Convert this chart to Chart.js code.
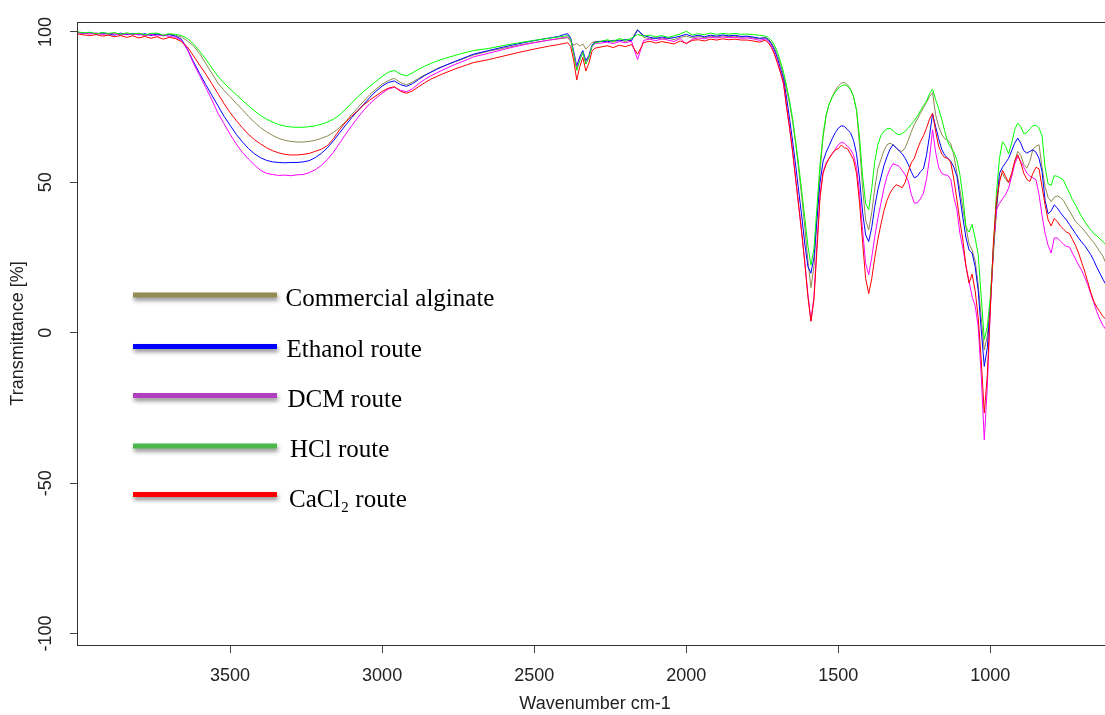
<!DOCTYPE html>
<html>
<head>
<meta charset="utf-8">
<title>FTIR spectra of alginate samples</title>
<script src="https://cdn.jsdelivr.net/npm/chart.js@4.4.1/dist/chart.umd.min.js"></script>
<style>
  html, body { margin: 0; padding: 0; background: #fff; overflow: hidden; }
  #wrap { position: absolute; left: 0; top: 0; width: 1120px; height: 715px; }
</style>
</head>
<body>
<div id="wrap"><canvas id="spectra"></canvas></div>
<script>
// Wavenumber grid (cm-1), shared by every spectrum
const wavenumbers = [
  4000,3980,3960,3940,3920,3900,3880,3860,3840,3820,3800,3780,3760,3740,3720,3700,3680,3660,
  3640,3620,3600,3580,3560,3540,3520,3500,3480,3460,3440,3420,3400,3380,3360,3340,3320,3300,3280,3260,3240,3220,3200,3180,3160,3140,3120,3100,3080,3060,3040,3020,3000,
  2980,2960,2940,2920,2900,2880,2860,2840,2820,2800,2780,2760,2740,2720,2700,
  2650,2600,2550,2500,2450,2420,
  2400,2390,2380,2370,2360,2350,2340,2330,2320,2310,2300,
  2280,2260,2240,2220,2200,2180,2160,2140,2120,2100,2080,2060,2040,2020,2000,1980,1960,1940,1920,1900,1880,1860,1840,1820,1800,1780,1760,
  1740,1730,1720,1710,1700,1690,1680,1670,1660,1650,
  1640,1630,1620,1610,1600,1590,1580,1570,1560,1550,
  1540,1530,1520,1510,1500,1490,1480,1470,1460,1450,
  1440,1430,1420,1410,1400,1390,1380,1370,1360,1350,
  1340,1330,1320,1310,1300,1290,1280,1270,1260,1250,
  1240,1230,1220,1210,1200,1190,1180,1170,1160,1150,
  1140,1130,1120,1110,1100,1090,1080,1070,1060,1050,
  1040,1030,1020,1010,1000,990,980,970,960,950,
  940,930,920,910,900,890,880,870,860,850,
  840,830,820,810,800,790,780,770,760,750,
  740,730,720,710,700,690,680,670,660,650,
  640,630,620,610,600
];

// Transmittance (%) of each sample
const commercialAlginate = [
  99.8,99.6,99.7,99.3,99.6,99.2,99.5,99.0,99.4,99.1,99.5,98.9,99.3,99.4,98.8,99.2,98.9,98.3,
  97.0,95.3,92.8,89.5,86.3,83.0,80.6,78.5,76.3,74.2,72.0,70.0,68.2,66.8,65.6,64.6,64.0,63.6,63.4,63.4,63.6,64.0,64.6,65.4,66.6,68.2,70.2,72.6,74.8,77.0,79.2,81.0,82.6,
  83.8,84.6,83.2,82.4,83.3,84.6,85.7,86.6,87.8,88.6,89.3,90.1,90.8,91.6,92.3,
  93.6,94.6,95.6,96.5,97.3,97.7,
  97.9,98.1,96.8,95.6,96.2,95.3,96.0,94.3,95.4,96.4,96.8,
  96.9,97.2,96.6,97.4,96.8,97.5,100.8,98.2,97.7,98.1,97.6,98.0,97.4,98.2,98.6,98.0,98.5,98.1,98.6,98.3,98.7,98.4,98.6,98.2,98.4,98.0,97.7,
  98.2,97.6,96.4,94.6,92.2,89.2,85.5,80.8,76.0,70.0,
  62.5,54.0,45.0,35.0,24.0,15.0,22.0,38.0,54.0,65.0,
  72.0,76.0,78.5,80.5,82.0,83.0,83.2,82.5,81.0,78.5,
  74.0,62.0,48.0,37.5,34.2,40.0,48.0,54.5,57.5,60.5,
  62.5,63.0,62.5,61.5,60.6,60.3,61.5,64.0,66.8,69.2,
  71.0,73.0,74.8,76.6,78.5,79.8,72.5,68.6,66.0,64.5,
  64.0,62.8,59.0,53.0,47.5,41.0,35.0,29.5,27.5,24.0,
  16.0,5.0,-5.7,-1.0,10.0,26.0,40.0,51.0,53.0,51.0,
  49.8,52.0,57.0,60.3,59.0,56.0,54.7,57.0,61.0,62.0,
  62.5,55.0,48.5,45.0,43.6,45.0,45.5,45.0,44.0,42.2,
  40.5,38.8,37.0,36.0,35.0,33.8,32.5,31.2,30.0,28.5,
  27.0,25.5,23.0,21.5,20.0
];

const ethanolRoute = [
  99.9,99.5,99.8,99.2,99.7,99.4,98.9,99.6,99.1,99.5,99.0,99.4,98.8,99.3,98.7,99.1,98.6,97.6,
  94.2,90.0,86.2,82.5,79.0,75.5,72.0,69.0,66.0,63.5,61.3,59.5,58.2,57.3,56.8,56.6,56.5,56.6,56.6,56.8,57.2,58.2,59.6,61.5,63.8,66.4,69.0,71.5,73.8,76.0,78.3,80.3,82.0,
  83.2,83.7,82.5,81.9,82.8,84.2,85.5,86.6,87.6,88.5,89.4,90.2,91.0,91.8,92.6,
  93.8,95.0,96.1,97.1,98.0,98.5,
  99.2,99.4,98.0,93.5,88.6,91.8,93.8,90.4,92.2,95.6,96.6,
  96.9,96.7,97.2,97.0,97.5,97.1,100.6,98.8,98.2,97.8,98.3,97.9,98.1,98.6,99.2,98.5,98.9,98.4,98.9,98.6,99.0,98.7,98.9,98.5,98.6,98.3,97.9,
  98.0,97.4,96.0,94.0,91.2,87.8,84.5,78.0,71.0,63.5,
  55.5,47.0,38.5,29.5,22.0,19.8,25.0,38.0,50.0,57.0,
  60.0,62.2,64.5,66.5,68.0,68.8,68.6,67.5,66.5,64.0,
  59.5,51.0,40.0,32.5,30.3,35.0,42.0,47.5,51.5,55.5,
  58.5,61.0,62.5,61.5,60.5,59.5,58.0,56.0,53.5,51.5,
  52.0,53.5,54.5,59.0,65.5,72.8,68.5,64.5,61.0,59.0,
  58.0,57.0,55.0,52.0,45.0,38.0,31.5,27.5,26.5,22.0,
  14.0,1.0,-11.2,-5.0,10.0,28.0,42.0,53.0,55.0,56.5,
  58.0,60.5,63.0,64.7,63.0,60.5,59.7,60.3,60.8,60.0,
  58.0,53.5,44.0,39.5,40.5,42.5,41.5,40.0,38.7,37.5,
  36.0,34.5,33.0,31.5,30.2,29.0,27.5,26.0,24.0,21.8,
  19.8,17.8,16.0,15.0,14.0
];

const dcmRoute = [
  99.7,99.6,99.3,99.7,99.1,99.5,99.3,98.9,99.4,99.0,99.3,98.7,99.2,98.6,99.0,98.5,98.2,97.2,
  94.0,89.5,85.5,81.5,77.5,73.0,69.5,66.0,62.8,60.0,57.8,55.8,54.0,53.0,52.6,52.3,52.4,52.2,52.5,52.6,53.2,54.2,55.6,57.6,60.0,63.0,66.0,68.8,71.5,74.0,76.2,78.0,79.6,
  81.0,81.6,80.6,80.1,81.1,82.8,84.2,85.4,86.4,87.4,88.3,89.2,90.0,90.8,91.7,
  92.9,94.2,95.4,96.4,97.3,97.8,
  98.2,98.4,97.2,92.8,87.6,91.0,93.0,89.6,91.6,95.0,96.2,
  96.3,96.6,96.1,96.8,96.4,96.9,90.8,97.2,97.6,97.1,97.7,97.3,96.8,97.8,96.0,97.6,98.0,97.7,98.2,98.0,98.3,98.1,98.2,97.9,98.0,97.7,97.2,
  97.6,96.8,95.2,93.0,90.0,86.4,82.5,75.0,68.0,60.0,
  51.0,42.0,33.0,23.5,13.0,4.0,12.0,30.0,46.0,53.5,
  56.5,58.0,59.5,61.0,62.5,63.3,63.0,62.0,61.0,59.0,
  55.0,46.0,34.0,23.0,19.3,25.0,32.0,38.0,43.0,48.0,
  52.0,54.5,56.2,55.8,55.3,54.0,52.5,50.5,46.0,43.1,
  43.2,44.5,46.4,51.0,58.0,67.5,60.0,55.0,53.0,52.5,
  52.3,51.0,45.0,40.9,33.0,28.0,22.0,17.0,12.0,9.0,
  2.0,-14.0,-35.6,-18.0,8.0,28.0,40.9,43.0,44.5,46.0,
  48.0,52.0,56.0,58.6,57.0,55.0,53.1,52.0,51.5,50.9,
  46.0,39.0,33.1,29.0,26.5,31.5,31.5,30.5,29.5,28.7,
  28.5,26.5,24.5,22.5,20.8,18.5,16.0,13.0,10.0,7.0,
  4.5,2.5,1.0,0.5,0.0
];

const hclRoute = [
  100.0,99.7,99.9,99.4,99.8,99.5,99.8,99.2,99.7,99.3,99.6,99.0,99.5,99.6,98.9,99.4,99.2,98.8,
  97.8,96.0,93.6,91.0,88.0,85.3,83.0,81.0,79.2,77.3,75.5,73.8,72.2,71.0,70.0,69.2,68.7,68.4,68.3,68.3,68.5,68.8,69.3,70.0,71.0,72.4,74.3,76.4,78.4,80.3,82.0,83.6,85.2,
  86.6,87.2,86.0,85.4,86.4,87.6,88.6,89.5,90.3,91.0,91.6,92.2,92.8,93.3,93.8,
  94.5,95.5,96.4,97.2,97.9,98.3,
  98.6,98.8,97.5,92.5,87.2,90.5,93.2,89.3,91.5,95.2,96.4,
  96.8,97.4,96.9,97.8,97.2,97.9,99.2,98.6,98.9,98.4,98.8,98.2,98.7,99.3,100.2,99.0,99.4,99.1,99.6,99.2,99.5,99.3,99.5,99.2,99.3,99.1,98.9,
  98.6,98.2,97.2,95.6,93.2,90.2,86.6,82.0,77.0,71.0,
  63.5,55.5,47.0,38.0,29.0,22.5,28.0,42.0,56.0,66.0,
  72.5,76.0,78.3,80.0,81.2,82.0,82.4,82.0,81.0,78.5,
  74.0,65.0,52.0,43.0,40.9,48.0,57.0,62.5,65.5,67.0,
  67.8,68.0,67.2,66.2,65.8,66.2,67.0,68.0,69.3,70.5,
  72.0,73.8,75.5,77.0,79.5,81.0,77.5,74.5,71.0,67.0,
  63.5,61.5,60.0,57.5,52.5,45.0,35.0,33.5,36.0,31.5,
  26.0,12.0,-2.3,2.0,12.0,28.0,46.4,58.0,63.5,62.0,
  59.5,63.0,67.5,69.7,68.5,66.2,66.5,67.8,68.8,69.0,
  68.0,65.5,55.0,49.5,49.0,52.2,52.0,51.5,50.8,48.5,
  46.5,44.2,42.5,40.5,38.6,37.0,35.5,34.2,33.0,32.2,
  31.2,30.3,29.2,28.2,27.0
];

const cacl2Route = [
  99.3,99.0,98.8,99.1,98.6,98.9,98.4,98.8,98.2,98.7,98.0,98.5,97.9,98.4,97.6,98.2,97.8,96.8,
  95.0,92.0,89.0,86.0,82.8,79.5,76.2,73.2,70.6,68.2,66.0,64.2,62.8,61.5,60.5,59.8,59.3,59.1,59.1,59.3,59.6,60.3,61.0,62.2,64.5,67.5,70.0,72.0,73.8,75.8,77.4,78.8,80.2,
  81.3,81.8,80.3,79.6,80.4,81.8,83.1,84.3,85.2,86.1,86.9,87.7,88.4,89.1,89.8,
  90.8,92.0,93.2,94.3,95.3,95.8,
  96.2,96.4,95.2,90.5,84.0,88.5,91.5,87.0,89.6,93.6,94.6,
  95.0,95.4,94.8,95.6,95.1,95.8,92.6,96.5,96.9,96.3,96.8,96.4,96.0,97.0,96.2,97.2,97.4,97.0,97.6,97.3,97.7,97.4,97.6,97.3,97.3,97.0,96.6,
  97.2,96.4,94.8,92.6,89.6,86.5,83.0,75.0,68.0,60.0,
  51.0,42.0,33.0,23.0,12.0,3.8,11.0,28.0,45.0,53.0,
  56.0,58.0,59.5,60.8,61.2,62.4,61.5,61.2,59.5,57.5,
  53.0,43.0,30.0,18.0,13.0,18.0,25.0,31.0,36.0,40.5,
  44.0,46.4,48.0,49.2,48.8,48.2,50.0,53.5,56.5,58.0,
  61.0,63.5,65.5,68.0,71.0,73.0,67.0,62.0,59.5,58.2,
  58.0,56.5,51.0,44.2,37.0,30.5,22.0,16.5,19.5,14.0,
  5.0,-9.0,-26.7,-14.0,8.0,30.0,44.0,50.0,54.0,52.0,
  50.0,53.0,57.0,59.2,56.5,53.0,51.0,50.3,53.0,55.0,
  54.5,48.5,42.5,37.5,35.5,38.0,37.0,35.5,34.5,33.5,
  33.0,31.0,29.0,26.5,23.5,20.5,17.0,13.5,10.5,8.5,
  7.0,5.4,4.5,3.5,3.0
];

const seriesNames = ['Commercial alginate', 'Ethanol route', 'DCM route', 'HCl route', 'CaCl\u2082 route'];
const seriesValues = [commercialAlginate, ethanolRoute, dcmRoute, hclRoute, cacl2Route];
const lineColors = ['#8c8850', '#0000ff', '#ff00ff', '#00ff00', '#ff0000'];
const legendColors = ['#948a54', '#0000ff', '#b23fbe', '#4cb84c', '#ff0000'];
const drawOrder = [4, 3, 2, 1, 0];

const xTickValues = [3500, 3000, 2500, 2000, 1500, 1000];
const yTickValues = [100, 50, 0, -50, -100];

const AXIS_FONT = '"Liberation Sans", Arial, sans-serif';
const TEXT_COLOR = '#222';

const datasets = seriesValues.map((vals, s) => ({
  label: seriesNames[s],
  data: wavenumbers.map((w, i) => ({ x: w, y: vals[i] })),
  borderColor: lineColors[s],
  borderWidth: 1,
  pointRadius: 0,
  fill: false,
  tension: 0,
  order: drawOrder[s]
}));

// Frame, rotated y labels and the in-plot key
const decorations = {
  id: 'decorations',
  afterDraw(chart) {
    const { ctx, chartArea: a } = chart;
    ctx.save();
    // plot frame
    ctx.strokeStyle = '#333';
    ctx.lineWidth = 1;
    ctx.strokeRect(Math.round(a.left) - 0.5, Math.round(a.top) + 0.5,
                   Math.round(a.right - a.left), Math.round(a.bottom - a.top));

    // y tick labels, written bottom-to-top
    const ys = chart.scales.y;
    ctx.fillStyle = TEXT_COLOR;
    ctx.font = '18px ' + AXIS_FONT;
    ctx.textAlign = 'center';
    ctx.textBaseline = 'middle';
    yTickValues.forEach(v => {
      const py = ys.getPixelForValue(v);
      ctx.save();
      ctx.translate(46, py);
      ctx.rotate(-Math.PI / 2);
      ctx.fillText(String(v), 0, 0);
      ctx.restore();
    });

    // key
    const lineY = [295, 346.5, 395.5, 446, 494.5];
    const textY = [306, 357, 406.5, 457, 506.5];
    const textX = [285.5, 286.5, 287.5, 290, 289];
    seriesNames.forEach((name, i) => {
      ctx.save();
      ctx.shadowColor = 'rgba(0,0,0,0.45)';
      ctx.shadowBlur = 4;
      ctx.shadowOffsetX = 1;
      ctx.shadowOffsetY = 3;
      ctx.strokeStyle = legendColors[i];
      ctx.lineWidth = 5;
      ctx.lineCap = 'butt';
      ctx.beginPath();
      ctx.moveTo(133, lineY[i]);
      ctx.lineTo(277, lineY[i]);
      ctx.stroke();
      ctx.restore();
      ctx.fillStyle = '#000';
      ctx.font = '25px "Liberation Serif", "DejaVu Serif", serif';
      ctx.textAlign = 'left';
      ctx.textBaseline = 'alphabetic';
      ctx.fillText(name, textX[i], textY[i]);
    });
    ctx.restore();
  }
};

new Chart(document.getElementById('spectra'), {
  type: 'line',
  data: { datasets },
  plugins: [decorations],
  options: {
    responsive: true,
    maintainAspectRatio: false,
    devicePixelRatio: 1,
    animation: false,
    events: [],
    layout: { padding: { top: 22, right: 8, left: 0, bottom: 0 } },
    plugins: { legend: { display: false }, tooltip: { enabled: false } },
    scales: {
      x: {
        type: 'linear',
        reverse: true,
        min: 600,
        max: 4000,
        afterBuildTicks: s => { s.ticks = xTickValues.map(v => ({ value: v })); },
        afterFit: s => { s.height = 70; },
        border: { display: false },
        grid: { drawOnChartArea: false, drawTicks: true, tickLength: 8, tickColor: '#444' },
        ticks: { autoSkip: false, maxRotation: 0, padding: 12, color: TEXT_COLOR,
                 callback: v => String(v),
                 font: { family: AXIS_FONT, size: 18 } },
        title: { display: true, text: 'Wavenumber cm-1', color: TEXT_COLOR,
                 font: { family: AXIS_FONT, size: 18 }, padding: { top: 0, bottom: 0 } }
      },
      y: {
        type: 'linear',
        min: -103.8,
        max: 103.3,
        afterBuildTicks: s => { s.ticks = yTickValues.map(v => ({ value: v })); },
        afterFit: s => { s.width = 78; },
        border: { display: false },
        grid: { drawOnChartArea: false, drawTicks: true, tickLength: 8, tickColor: '#444' },
        ticks: { color: 'rgba(0,0,0,0)', font: { family: AXIS_FONT, size: 18 } },
        title: { display: true, text: 'Transmittance [%]', color: TEXT_COLOR,
                 font: { family: AXIS_FONT, size: 18 }, padding: { top: 7, bottom: 0 } }
      }
    }
  }
});
</script>
</body>
</html>
